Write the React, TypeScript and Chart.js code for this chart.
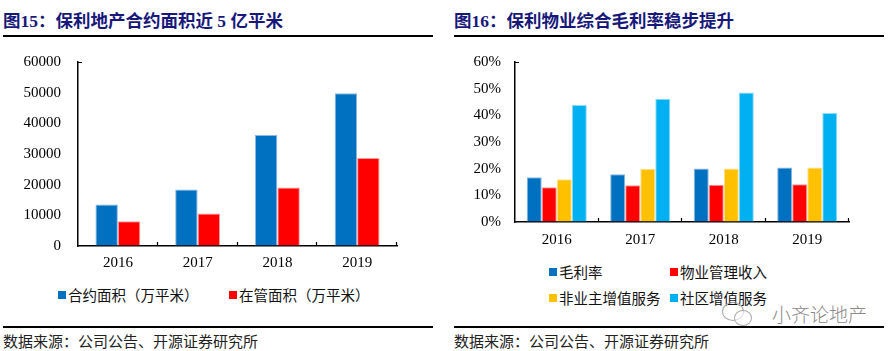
import React, { useEffect, useRef } from "react";
import { Chart, registerables } from "chart.js";
Chart.register(...registerables);

// ---------- data ----------
const years = ["2016", "2017", "2018", "2019"];
// 图15 (万平米)
const contractArea = [13500, 18400, 36200, 49800];
const managedArea = [8100, 10600, 19100, 28700];
const areaMax = 60000;
const areaStep = 10000;
// 图16 (%)
const grossMargin = [16.8, 17.9, 20.1, 20.4];
const mgmtIncomeMargin = [13.0, 13.8, 14.0, 14.2];
const nonOwnerMargin = [16.0, 20.0, 20.1, 20.4];
const communityMargin = [43.9, 46.2, 48.6, 40.9];
const pctMax = 60;
const pctStep = 10;

const BLUE = "#0070C0";
const RED = "#FF0000";
const YELLOW = "#FFC000";
const CYAN = "#00B0F0";
const NAVY = "#18187a";

const serif = "'Liberation Serif', 'Times New Roman', serif";
const cjk = "'Noto Sans CJK SC', 'Noto Sans', sans-serif";

const innerTicks = {
  id: "innerTicks",
  afterDraw(chart: any) {
    const { ctx, chartArea, scales } = chart;
    const x = scales.x;
    const n = chart.data.labels.length;
    const w = (x.right - x.left) / n;
    ctx.save();
    ctx.strokeStyle = "#000";
    ctx.lineWidth = 1.2;
    ctx.beginPath();
    for (let i = 1; i <= n; i++) {
      const px = Math.round(x.left + i * w) - 0.5;
      ctx.moveTo(px, chartArea.bottom);
      ctx.lineTo(px, chartArea.bottom - 4);
    }
    ctx.moveTo(chartArea.left, chartArea.top + 0.5);
    ctx.lineTo(chartArea.left + 4, chartArea.top + 0.5);
    ctx.stroke();
    ctx.restore();
  },
};

function makeOptions(p: {
  max: number;
  step: number;
  yWidth: number;
  xHeight: number;
  padTop: number;
  padRight: number;
  yPad: number;
  xPad: number;
  fmt: (v: any) => string;
}) {
  const tickFont = { family: serif, size: 15 };
  return {
    animation: false,
    responsive: false,
    maintainAspectRatio: false,
    layout: { padding: { top: p.padTop, right: p.padRight, left: 0, bottom: 0 } },
    plugins: { legend: { display: false }, tooltip: { enabled: false } },
    scales: {
      x: {
        grid: { display: true, drawOnChartArea: false, drawTicks: false },
        border: { display: true, color: "#000", width: 1.5 },
        ticks: { padding: p.xPad, color: "#000", font: tickFont },
        afterFit(s: any) {
          s.height = p.xHeight;
        },
      },
      y: {
        min: 0,
        max: p.max,
        grid: { display: true, drawOnChartArea: false, drawTicks: false },
        border: { display: true, color: "#000", width: 1.5 },
        ticks: {
          stepSize: p.step,
          padding: p.yPad,
          color: "#000",
          font: tickFont,
          callback: p.fmt,
        },
        afterFit(s: any) {
          s.width = p.yWidth;
        },
      },
    },
  };
}

function ChartCanvas({ left, top, width, height, config }: any) {
  const ref = useRef<HTMLCanvasElement | null>(null);
  useEffect(() => {
    if (!ref.current) return;
    const c = new Chart(ref.current, config);
    return () => c.destroy();
  }, []);
  return (
    <canvas
      ref={ref}
      width={width}
      height={height}
      style={{ position: "absolute", left, top, width, height, display: "block" }}
    />
  );
}

function ds(label: string, data: number[], color: string, border: string, cat: number) {
  return {
    label,
    data,
    backgroundColor: color,
    borderColor: border,
    borderWidth: 1,
    barPercentage: 1,
    categoryPercentage: cat,
  };
}

const leftConfig: any = {
  type: "bar",
  data: {
    labels: years,
    datasets: [
      ds("合约面积（万平米）", contractArea, BLUE, "#8db8e2", 0.5625),
      ds("在管面积（万平米）", managedArea, RED, "#ff9a9a", 0.5625),
    ],
  },
  options: makeOptions({
    max: areaMax,
    step: areaStep,
    yWidth: 78,
    xHeight: 34,
    padTop: 11,
    padRight: 13,
    yPad: 17,
    xPad: 8,
    fmt: (v: any) => String(v),
  }),
  plugins: [innerTicks],
};

const rightConfig: any = {
  type: "bar",
  data: {
    labels: years,
    datasets: [
      ds("毛利率", grossMargin, BLUE, "#8db8e2", 0.72),
      ds("物业管理收入", mgmtIncomeMargin, RED, "#ff9a9a", 0.72),
      ds("非业主增值服务", nonOwnerMargin, YELLOW, "#ffe08a", 0.72),
      ds("社区增值服务", communityMargin, CYAN, "#8fdcf8", 0.72),
    ],
  },
  options: makeOptions({
    max: pctMax,
    step: pctStep,
    yWidth: 68,
    xHeight: 38,
    padTop: 11,
    padRight: 18,
    yPad: 14,
    xPad: 9,
    fmt: (v: any) => v + "%",
  }),
  plugins: [innerTicks],
};

function Text({ x, y, size, children, style }: any) {
  const lh = Math.round(size * 1.4);
  return (
    <div
      style={{
        position: "absolute",
        left: x,
        top: y - lh / 2,
        fontSize: size,
        lineHeight: lh + "px",
        whiteSpace: "nowrap",
        fontFamily: cjk,
        color: "#111",
        ...style,
      }}
    >
      {children}
    </div>
  );
}

function Rule({ x1, x2, y }: any) {
  return (
    <div
      style={{ position: "absolute", left: x1, top: y, width: x2 - x1, height: 2, background: "#000" }}
    />
  );
}

function LegendItem({ x, y, color, label }: any) {
  return (
    <>
      <div
        style={{ position: "absolute", left: x, top: y - 4, width: 8, height: 8, background: color }}
      />
      <Text x={x + 10} y={y} size={14.5}>
        {label}
      </Text>
    </>
  );
}

export default function App() {
  const titleStyle = { fontFamily: `${serif.split(",")[0]}, ${cjk}`, fontWeight: 700, color: NAVY };
  return (
    <div
      style={{
        position: "absolute",
        left: 0,
        top: 0,
        width: 894,
        height: 351,
        background: "#fff",
        overflow: "hidden",
      }}
    >
      <Text x={3} y={21} size={17.5} style={titleStyle}>
        图15：保利地产合约面积近 5 亿平米
      </Text>
      <Text x={454} y={21} size={17.5} style={titleStyle}>
        图16：保利物业综合毛利率稳步提升
      </Text>
      <Rule x1={3} x2={433} y={35} />
      <Rule x1={454} x2={884} y={35} />

      <ChartCanvas left={0} top={36} width={410} height={244} config={leftConfig} />
      <ChartCanvas left={447} top={39} width={420} height={221} config={rightConfig} />

      <LegendItem x={58} y={295} color={BLUE} label="合约面积（万平米）" />
      <LegendItem x={229} y={295} color={RED} label="在管面积（万平米）" />

      <LegendItem x={549} y={272} color={BLUE} label="毛利率" />
      <LegendItem x={670} y={272} color={RED} label="物业管理收入" />
      <LegendItem x={549} y={298} color={YELLOW} label="非业主增值服务" />
      <LegendItem x={670} y={298} color={CYAN} label="社区增值服务" />

      {/* watermark */}
      <div
        style={{
          position: "absolute",
          left: 722,
          top: 302,
          width: 20,
          height: 17,
          border: "1.2px solid #aaa",
          borderRadius: "50%",
        }}
      />
      <div
        style={{
          position: "absolute",
          left: 734,
          top: 310,
          width: 16,
          height: 14,
          border: "1.2px solid #aaa",
          borderRadius: "50%",
          background: "rgba(255,255,255,0.6)",
        }}
      />
      <Text x={772} y={313} size={19} style={{ color: "#8a8a8a", fontWeight: 300 }}>
        小齐论地产
      </Text>

      <Rule x1={3} x2={433} y={326} />
      <Rule x1={454} x2={884} y={326} />
      <Text x={3} y={340} size={15} style={{ color: "#222" }}>
        数据来源：公司公告、开源证券研究所
      </Text>
      <Text x={454} y={340} size={15} style={{ color: "#222" }}>
        数据来源：公司公告、开源证券研究所
      </Text>
    </div>
  );
}
